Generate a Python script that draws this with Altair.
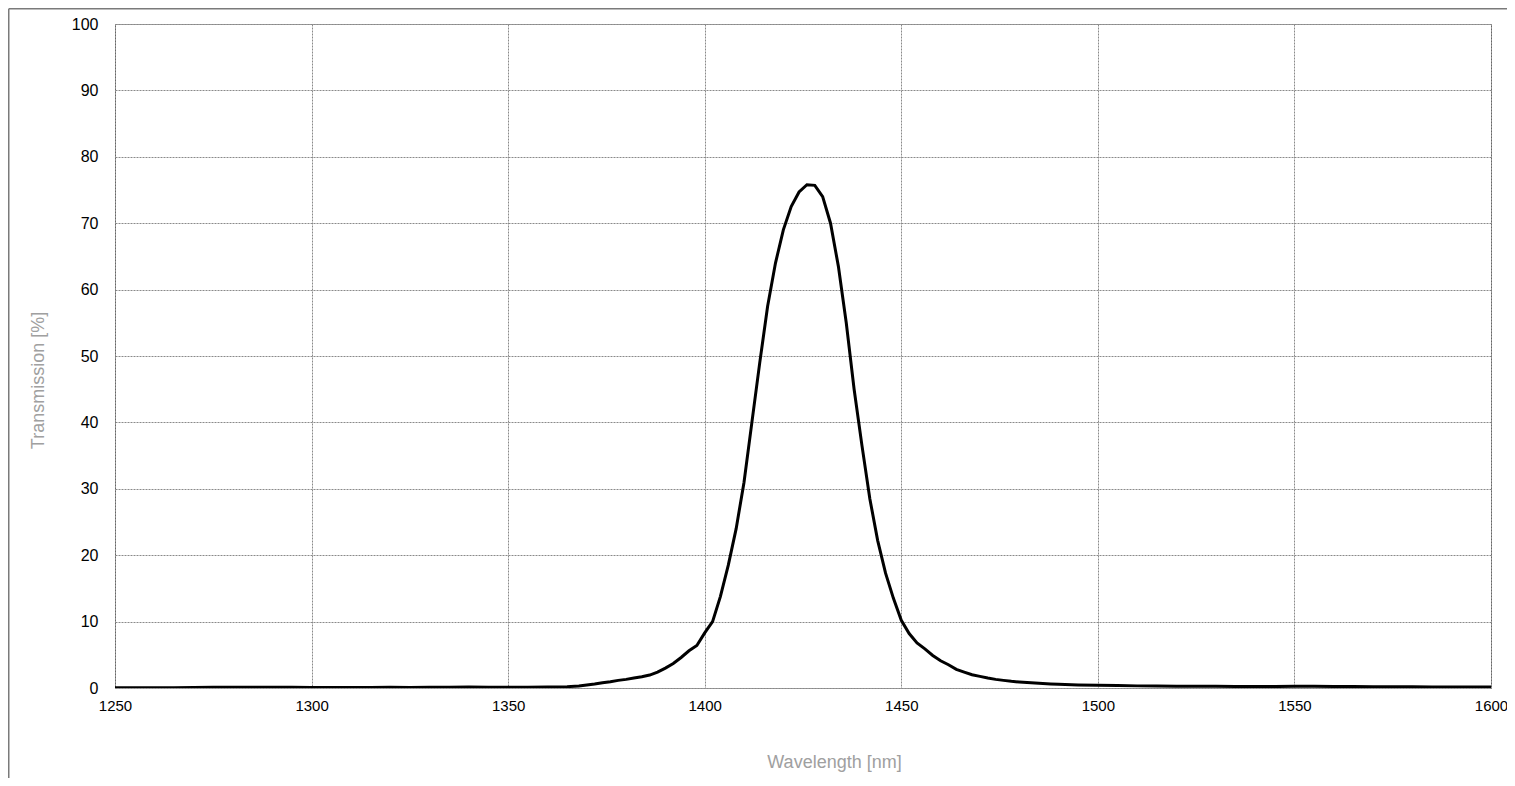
import altair as alt
import pandas as pd

wavelength = [1250, 1255, 1260, 1265, 1270, 1275, 1280, 1285, 1290, 1295, 1300, 1305,
              1310, 1315, 1320, 1325, 1330, 1335, 1340, 1345, 1350, 1355, 1360, 1365,
              1368, 1370, 1372, 1374, 1376, 1378, 1380, 1382, 1384, 1386, 1388, 1390,
              1392, 1394, 1396, 1398, 1400, 1402, 1404, 1406, 1408, 1410, 1412, 1414,
              1416, 1418, 1420, 1422, 1424, 1426, 1428, 1430, 1432, 1434, 1436, 1438,
              1440, 1442, 1444, 1446, 1448, 1450, 1452, 1454, 1456, 1458, 1460, 1462,
              1464, 1466, 1468, 1470, 1472, 1474, 1476, 1478, 1480, 1482, 1484, 1486,
              1488, 1490, 1495, 1500, 1505, 1510, 1515, 1520, 1525, 1530, 1535, 1540,
              1545, 1550, 1555, 1560, 1565, 1570, 1575, 1580, 1585, 1590, 1595, 1600]

transmission = [0.05, 0.05, 0.05, 0.05, 0.08, 0.1, 0.1, 0.1, 0.1, 0.1, 0.08, 0.08,
                0.08, 0.08, 0.1, 0.08, 0.1, 0.12, 0.15, 0.12, 0.1, 0.1, 0.15, 0.2,
                0.3, 0.45, 0.6, 0.8, 0.95, 1.15, 1.3, 1.5, 1.7, 1.95, 2.4, 3.0,
                3.7, 4.6, 5.6, 6.4, 8.3, 10.0, 13.8, 18.5, 24.0, 31.0, 40.0, 49.0,
                57.5, 64.0, 69.0, 72.5, 74.7, 75.8, 75.7, 74.0, 70.0, 63.5, 55.0, 45.0,
                36.5, 28.5, 22.2, 17.3, 13.5, 10.2, 8.2, 6.8, 5.9, 4.9, 4.1, 3.5,
                2.8, 2.4, 2.0, 1.75, 1.5, 1.3, 1.15, 1.0, 0.9, 0.82, 0.74, 0.68,
                0.62, 0.56, 0.47, 0.4, 0.36, 0.32, 0.3, 0.28, 0.25, 0.27, 0.24, 0.22,
                0.22, 0.25, 0.25, 0.24, 0.22, 0.2, 0.2, 0.18, 0.15, 0.15, 0.15, 0.15]

x_ticks = [1250, 1300, 1350, 1400, 1450, 1500, 1550, 1600]
y_ticks = [0, 10, 20, 30, 40, 50, 60, 70, 80, 90, 100]

assert len(wavelength) == len(transmission)
df = pd.DataFrame({"wl": wavelength, "t": transmission})

FONT = "Liberation Sans"
W, H = 1376, 664
PAD = {"left": 107, "top": 16, "right": 16, "bottom": 90}

line = alt.Chart(df).mark_line(color="black", strokeWidth=3, clip=True).encode(
    x=alt.X("wl:Q",
            scale=alt.Scale(domain=[1250, 1600], nice=False, zero=False),
            axis=alt.Axis(values=x_ticks, title="Wavelength [nm]", format="d",
                          grid=True, gridColor="#8a8a8a", gridDash=[2, 1], gridWidth=1,
                          domain=False, ticks=False, labelFlush=False, labelOverlap=False,
                          labelFontSize=15, labelPadding=10,
                          titleX=719, titlePadding=40)),
    y=alt.Y("t:Q",
            scale=alt.Scale(domain=[0, 100], nice=False),
            axis=alt.Axis(values=y_ticks, title="Transmission [%]",
                          grid=True, gridColor="#8a8a8a", gridDash=[2, 1], gridWidth=1,
                          domain=False, ticks=False, labelFontSize=16, labelPadding=17,
                          titleY=356, titlePadding=24)),
)

one = alt.Data(values=[{"a": 1}])
top_edge = alt.Chart(one).mark_rule(color="#7a7a7a", strokeWidth=1.5, clip=False).encode(
    x=alt.value(-PAD["left"] + 0.75), x2=alt.value(W + PAD["right"]),
    y=alt.value(-PAD["top"] + 0.75)
)
left_edge = alt.Chart(one).mark_rule(color="#7a7a7a", strokeWidth=1.5, clip=False).encode(
    x=alt.value(-PAD["left"] + 0.75), y=alt.value(-PAD["top"] + 0.75),
    y2=alt.value(H + PAD["bottom"])
)

chart = alt.layer(line, top_edge, left_edge).properties(
    width=W, height=H,
    autosize=alt.AutoSizeParams(type="none"),
    padding=PAD,
).configure_view(
    stroke="#444444", strokeDash=[2, 1], strokeWidth=1
).configure_axis(
    labelFont=FONT, labelColor="black",
    titleFont=FONT, titleFontSize=18, titleColor="#a0a0a0", titleFontWeight="normal"
)

chart.save("out.html", embed_options={"renderer": "svg", "actions": False})
